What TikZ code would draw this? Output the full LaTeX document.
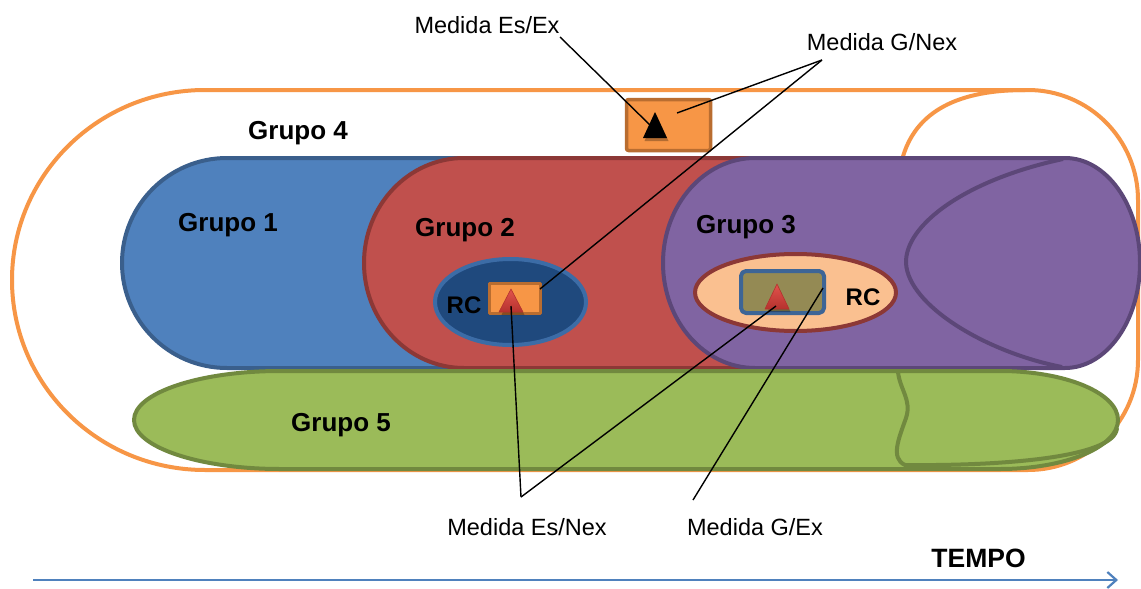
\documentclass[tikz,border=0pt]{standalone}
\usepackage{fontspec}
\setmainfont{Liberation Sans}
\usetikzlibrary{shapes.geometric,arrows.meta}
\definecolor{orng}{HTML}{F79646}
\definecolor{orngdk}{HTML}{B96D30}
\definecolor{bluef}{HTML}{4F81BD}
\definecolor{blued}{HTML}{3A5F8C}
\definecolor{redf}{HTML}{C0504D}
\definecolor{redd}{HTML}{8C3836}
\definecolor{purf}{HTML}{8064A2}
\definecolor{purd}{HTML}{5C4778}
\definecolor{grnf}{HTML}{9BBB59}
\definecolor{grnd}{HTML}{71893F}
\definecolor{rcone}{HTML}{1F497D}
\definecolor{rconed}{HTML}{3C6CA6}
\definecolor{peach}{HTML}{FAC090}
\definecolor{olive}{HTML}{948A54}
\definecolor{oliveb}{HTML}{3D6596}
\definecolor{trilt}{HTML}{E2534C}
\definecolor{tridk}{HTML}{B5322E}
\begin{document}
\begin{tikzpicture}[x=1pt,y=-1pt,line join=round]
\tikzset{
  grp/.style={font=\fontsize{26}{30}\selectfont\bfseries, anchor=base, inner sep=0pt},
  med/.style={font=\fontsize{23.5}{27}\selectfont, anchor=base, inner sep=0pt},
  conn/.style={draw=black, line width=1.4pt},
  shell/.style={line width=4pt},
  tshadow/.style={fill=black, opacity=.28},
}
\useasboundingbox (0,0) rectangle (1141,589);
\fill[white] (0,0) rectangle (1141,589);

% Grupo 4 outline
\draw[shell, orng] (205,90) -- (1028,90) arc[start angle=-90,end angle=0,radius=110]
  -- (1138,360) arc[start angle=0,end angle=90,radius=110]
  -- (205,470) arc[start angle=90,end angle=270,x radius=193,y radius=190] -- cycle;
\draw[shell, orng] (902,160) .. controls (915,110) and (960,90) .. (1025,90);

% top box
\node[draw=orngdk, fill=orng, line width=3.5pt, rounded corners=2pt, minimum width=84pt,
  minimum height=51pt, inner sep=0pt] (boxtop) at (668.5,125) {};
\fill[tshadow] (656.5,115) -- (668.5,141) -- (644.5,141) -- cycle;
\fill[black] (655,112) -- (667,138) -- (643,138) -- cycle;
\coordinate (tritop) at (651,126);
\coordinate (boxtopin) at (677,113);

% Grupo 1
\draw[shell, blued, fill=bluef] (227,158) -- (620,158) -- (620,368) -- (227,368)
  arc[start angle=90,end angle=270,radius=105] -- cycle;
% Grupo 2
\draw[shell, redd, fill=redf] (464,158) -- (820,158) -- (820,368) -- (464,368)
  arc[start angle=90,end angle=270,x radius=100,y radius=105] -- cycle;
% Grupo 3
\draw[shell, purd, fill=purf] (755,158) -- (1065,158)
  arc[start angle=-90,end angle=90,x radius=75,y radius=105]
  -- (755,368) arc[start angle=90,end angle=270,x radius=92,y radius=105] -- cycle;
\draw[shell, purd] (1063,159) .. controls (965,180) and (905,225) .. (906,263)
  .. controls (908,305) and (985,352) .. (1062,367);

% Grupo 5
\draw[shell, grnd, fill=grnf] (280,371) -- (1000,371)
  arc[start angle=-90,end angle=90,x radius=118,y radius=49]
  -- (280,469) arc[start angle=90,end angle=270,x radius=146,y radius=49] -- cycle;
\draw[shell, grnd] (898,372) .. controls (900,390) and (912,400) .. (906,418)
  .. controls (899,438) and (890,458) .. (905,465)
  .. controls (1000,466) and (1115,458) .. (1117,428);

% RC in Grupo 2
\node[ellipse, draw=rconed, fill=rcone, line width=4pt, minimum width=151pt,
  minimum height=86pt, inner sep=0pt] (rcone) at (510.5,302) {};
\node[draw=orngdk, fill=orng, line width=3pt, minimum width=51pt, minimum height=30pt,
  inner sep=0pt] (boxrc) at (515,298.5) {};
\fill[tshadow] (512.5,292) -- (524.5,315) -- (501.5,315) -- cycle;
\shade[top color=trilt, bottom color=tridk, draw=tridk, line width=.6pt]
  (511,289) -- (523,312) -- (499,312) -- cycle;
\coordinate (trirc) at (511,306);
\coordinate (boxrcin) at (540,289);

% RC in Grupo 3
\node[ellipse, draw=redd, fill=peach, line width=4pt, minimum width=201pt,
  minimum height=77pt, inner sep=0pt] (rctwo) at (795.5,292.5) {};
\node[draw=oliveb, fill=olive, line width=4pt, rounded corners=5pt, minimum width=83pt,
  minimum height=42pt, inner sep=0pt] (boxol) at (782.5,292) {};
\fill[tshadow] (778.5,287) -- (790.5,312) -- (767.5,312) -- cycle;
\shade[top color=trilt, bottom color=tridk, draw=tridk, line width=.6pt]
  (777,284) -- (789,309) -- (765,309) -- cycle;
\coordinate (trirc2) at (776,306);
\coordinate (boxolin) at (823,288);

% labels
\node[grp] (g4) at (298,139) {Grupo 4};
\node[grp] (g1) at (228,231) {Grupo 1};
\node[grp] (g2) at (465,236) {Grupo 2};
\node[grp] (g3) at (746,233) {Grupo 3};
\node[grp] (g5) at (341,431) {Grupo 5};
\node[grp, font=\fontsize{24}{28}\selectfont\bfseries] (rc1t) at (464,313) {RC};
\node[grp, font=\fontsize{24}{28}\selectfont\bfseries] (rc2t) at (863,305) {RC};
\node[grp, font=\fontsize{26.5}{30}\selectfont\bfseries] (tempo) at (978.5,567) {TEMPO};

\node[med] (esex) at (487,33) {Medida Es/Ex};
\node[med] (gnex) at (882,50) {Medida G/Nex};
\node[med] (esnex) at (527,535) {Medida Es/Nex};
\node[med] (gex) at (755,535) {Medida G/Ex};

\coordinate (esexP) at (560,37);
\coordinate (gnexP) at (822,60);
\coordinate (esnexP) at (521,497);
\coordinate (gexP) at (693,500);

% connectors
\draw[conn] (esexP) -- (tritop);
\draw[conn] (gnexP) -- (boxtopin);
\draw[conn] (gnexP) -- (boxrcin);
\draw[conn] (esnexP) -- (trirc);
\draw[conn] (esnexP) -- (trirc2);
\draw[conn] (gexP) -- (boxolin);

% time arrow
\coordinate (tA) at (33,580);
\coordinate (tB) at (1118,580);
\draw[bluef, line width=2.2pt, -{Straight Barb[length=9pt,width=16pt,line width=2.2pt]}] (tA) -- (tB);
\end{tikzpicture}
\end{document}
